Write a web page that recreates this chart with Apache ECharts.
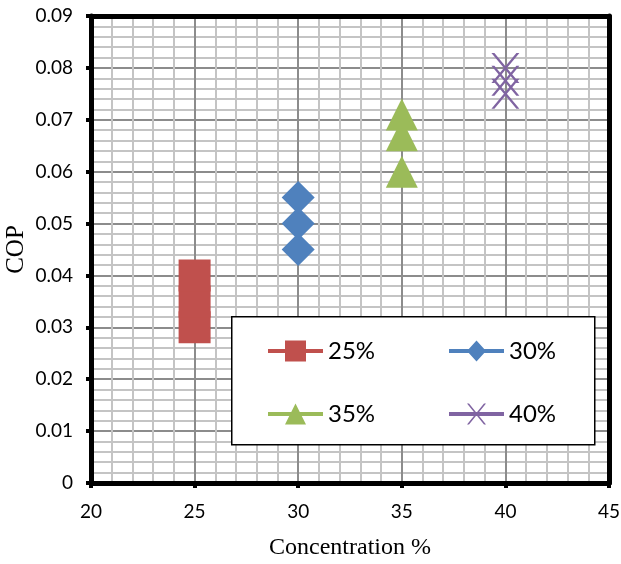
<!DOCTYPE html>
<html>
<head>
<meta charset="utf-8">
<script src="https://cdn.jsdelivr.net/npm/echarts@6/dist/echarts.min.js"></script>
<style>
  html, body { margin: 0; padding: 0; background: #fff; }
  #chart { width: 621px; height: 564px; }
</style>
</head>
<body>
<div id="chart"></div>
<script>
// values
const seriesNames = ["25%", "30%", "35%", "40%"];
const concentrations = [25, 30, 35, 40];
const cop25 = [0.03, 0.035, 0.04];
const cop30 = [0.045, 0.05, 0.055];
const cop35 = [0.06, 0.067, 0.071];
const cop40 = [0.075, 0.0775, 0.08];
const copValues = [cop25, cop30, cop35, cop40];

const colors = ["#C0504D", "#4F81BD", "#9BBB59", "#8064A2"];
const xPath = "path://M0,0H3L28,30H25Z M25,0H28L3,30H0Z";
const symbols = ["rect", "diamond", "triangle", xPath];
const symbolSizes = [[32, 32], [33, 33], [32, 32], [28, 30]];

// legend icons: line with marker, like the office style
const legendIcons = [
  "path://M0,8.5H55V12.5H0Z M17,0H38V21H17Z",
  "path://M0,8.5H55V12.5H0Z M27.5,0L37,10.5L27.5,21L18,10.5Z",
  "path://M0,8.5H55V12.5H0Z M27.5,0L38,21H17Z",
  "path://M0,8.5H55V12.5H0Z M18,0H20L37,21H35Z M35,0H37L20,21H18Z"
];

const tickFont = "Lato";

function makeSeries(i) {
  return {
    name: seriesNames[i],
    type: "scatter",
    symbol: symbols[i],
    symbolSize: symbolSizes[i],
    itemStyle: { color: colors[i], opacity: 1 },
    data: copValues[i].map((v) => [concentrations[i], v]),
    z: 2
  };
}

function legendFor(names, top) {
  return {
    left: 268,
    top: top,
    padding: 0,
    orient: "horizontal",
    itemWidth: 55,
    itemHeight: 21,
    itemGap: 61,
    z: 10,
    selectedMode: false,
    textStyle: {
      fontFamily: tickFont,
      fontSize: 24,
      lineHeight: 24,
      color: "#000",
      width: 60
    },
    data: names.map((n) => ({
      name: n,
      icon: legendIcons[seriesNames.indexOf(n)]
    }))
  };
}

// plain frame axes for the top and right edges
function frameAxis(extra) {
  return Object.assign({
    type: "value",
    axisLine: { show: true, onZero: false, lineStyle: { color: "#000", width: 5 } },
    axisTick: { show: false },
    axisLabel: { show: false },
    splitLine: { show: false }
  }, extra);
}

const chart = echarts.init(document.getElementById("chart"));
chart.setOption({
  animation: false,
  backgroundColor: "#fff",
  grid: {
    left: 91,
    right: 12,
    top: 16,
    bottom: 81,
    outerBoundsMode: "none"
  },
  xAxis: [
    {
      type: "value",
      min: 20,
      max: 45,
      interval: 5,
      name: "Concentration %",
      nameLocation: "middle",
      nameGap: 53,
      nameTextStyle: { fontFamily: "Liberation Serif", fontSize: 24, color: "#000" },
      axisLine: { show: true, onZero: false, lineStyle: { color: "#000", width: 5 } },
      axisTick: { show: true, length: 5, lineStyle: { color: "#000", width: 4 } },
      axisLabel: { fontFamily: tickFont, fontSize: 19, color: "#000", margin: 19 },
      splitLine: { show: true, lineStyle: { color: "#8c8c8c", width: 2 } },
      minorTick: { show: false, splitNumber: 5 },
      minorSplitLine: { show: true, lineStyle: { color: "#c4c4c4", width: 2 } }
    },
    frameAxis({ position: "top", min: 20, max: 45, interval: 5 })
  ],
  yAxis: [
    {
      type: "value",
      min: 0,
      max: 0.09,
      interval: 0.01,
      name: "COP",
      nameLocation: "middle",
      nameGap: 62,
      nameMoveOverlap: false,
      nameTextStyle: { fontFamily: "Liberation Serif", fontSize: 25, color: "#000" },
      axisLine: { show: true, onZero: false, lineStyle: { color: "#000", width: 5 } },
      axisTick: { show: true, length: 5, lineStyle: { color: "#000", width: 4 } },
      axisLabel: {
        fontFamily: tickFont,
        fontSize: 19,
        color: "#000",
        margin: 18,
        formatter: (v) => (v === 0 ? "0" : v.toFixed(2))
      },
      splitLine: { show: true, lineStyle: { color: "#8c8c8c", width: 2 } },
      minorTick: { show: false, splitNumber: 5 },
      minorSplitLine: { show: true, lineStyle: { color: "#c4c4c4", width: 2 } }
    },
    frameAxis({ position: "right", min: 0, max: 0.09, interval: 0.01 })
  ],
  graphic: [
    {
      type: "rect",
      left: 231,
      top: 316,
      z: 8,
      shape: { width: 363, height: 128 },
      style: { fill: "#fff", stroke: "#000", lineWidth: 1.5 }
    }
  ],
  legend: [legendFor(["25%", "30%"], 339), legendFor(["35%", "40%"], 402)],
  series: seriesNames.map((_, i) => makeSeries(i))
});
</script>
</body>
</html>
